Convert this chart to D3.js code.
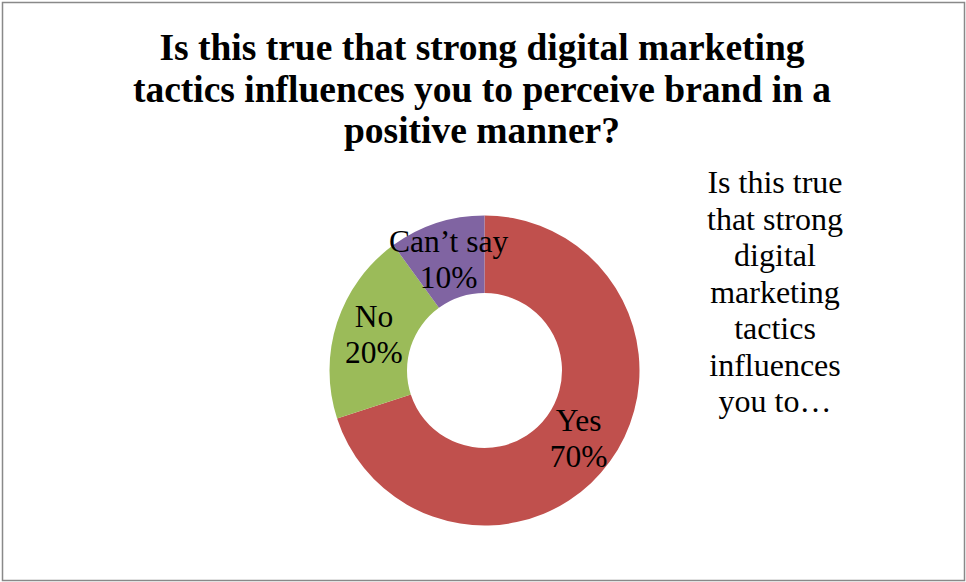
<!DOCTYPE html>
<html>
<head>
<meta charset="utf-8">
<script src="https://cdn.jsdelivr.net/npm/d3@7"></script>
<style>
  html, body { margin: 0; padding: 0; background: #fff; }
  svg { display: block; }
  text { font-family: "Liberation Serif", "Times New Roman", serif; fill: #000; }
</style>
</head>
<body>
<svg id="chart" width="966" height="582"></svg>
<script>
// Survey answers and their shares (percent)
const categories = ["Yes", "No", "Can\u2019t say"];
const values = [70, 20, 10];
const colors = ["#C0504D", "#9BBB59", "#8064A2"];
const titleLines = [
  "Is this true that strong digital marketing",
  "tactics influences you to perceive brand in a",
  "positive manner?"
];
const legendLines = [
  "Is this true", "that strong", "digital", "marketing",
  "tactics", "influences", "you to\u2026"
];

const svg = d3.select("#chart");
const W = 966, H = 582;

// Chart-area frame
svg.append("rect")
  .attr("x", 2.5).attr("y", 2.5)
  .attr("width", W - 4).attr("height", H - 4)
  .attr("fill", "#fff")
  .attr("stroke", "#898989")
  .attr("stroke-width", 1.5);

// Title
svg.append("g")
  .selectAll("text")
  .data(titleLines)
  .join("text")
  .attr("x", 482)
  .attr("y", (d, i) => 60 + i * 41.5)
  .attr("text-anchor", "middle")
  .attr("font-weight", "bold")
  .attr("font-size", 37.5)
  .text(d => d);

// Doughnut
const cx = 484.5, cy = 370.5, outerR = 155, innerR = 77.5;
const color = d3.scaleOrdinal().domain(categories).range(colors);
const pie = d3.pie().sort(null).value(d => d.value);
const arc = d3.arc().innerRadius(innerR).outerRadius(outerR);
const data = categories.map((c, i) => ({ name: c, value: values[i] }));
const arcs = pie(data);

const g = svg.append("g").attr("transform", `translate(${cx},${cy})`);
g.selectAll("path")
  .data(arcs)
  .join("path")
  .attr("d", arc)
  .attr("fill", d => color(d.data.name));

// Data labels: category and percentage at each slice centroid
const total = d3.sum(values);
const labels = g.selectAll("text.lbl")
  .data(arcs)
  .join("text")
  .attr("class", "lbl")
  .attr("text-anchor", "middle")
  .attr("font-size", 31.5)
  .attr("transform", d => `translate(${arc.centroid(d)})`);
labels.append("tspan")
  .attr("x", 0).attr("y", -8)
  .text(d => d.data.name);
labels.append("tspan")
  .attr("x", 0).attr("y", 28)
  .text(d => d3.format(".0%")(d.data.value / total));

// Legend (series name, wrapped and truncated)
svg.append("g")
  .selectAll("text")
  .data(legendLines)
  .join("text")
  .attr("x", 775)
  .attr("y", (d, i) => 193 + i * 36.5)
  .attr("text-anchor", "middle")
  .attr("font-size", 32)
  .text(d => d);
</script>
</body>
</html>
